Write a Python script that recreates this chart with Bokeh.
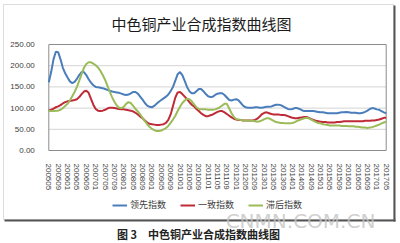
from bokeh.plotting import figure
from bokeh.models import (Range1d, FixedTicker, NumeralTickFormatter, Legend, LegendItem,
                          Label, BoxAnnotation)
from bokeh.embed import file_html
from bokeh.resources import INLINE

# ---------------- data ----------------
tick_labels = ["200505", "200509", "200601", "200605", "200609", "200701", "200705", "200709",
               "200801", "200805", "200809", "200901", "200905", "200909", "201001", "201005",
               "201009", "201101", "201105", "201109", "201201", "201205", "201209", "201301",
               "201305", "201309", "201401", "201405", "201409", "201501", "201505", "201509",
               "201601", "201605", "201609", "201701", "201705"]

y_ticks = [0, 50, 100, 150, 200, 250]

series_names = ["领先指数", "一致指数", "滞后指数"]

lead = [161, 185, 215, 233, 232, 215, 195, 182, 172, 163, 159, 162, 169, 178, 185, 185, 178, 168,
        160, 154, 150, 149, 148, 147, 145, 143, 141, 139, 138, 137, 136, 134, 132, 131, 132, 135,
        138, 138, 134, 127, 120, 112, 106, 103, 102, 105, 110, 115, 119, 123, 127, 132, 140, 150,
        165, 180, 185, 178, 164, 150, 140, 135, 135, 140, 145, 145, 140, 133, 128, 126, 127, 131,
        134, 135, 135, 131, 125, 119, 118, 120, 121, 118, 112, 105, 102, 101, 101, 101, 102, 102,
        101, 101, 102, 103, 103, 104, 106, 108, 108, 107, 104, 101, 98, 97, 98, 100, 100, 98,
        95, 93, 93, 93, 93, 93, 92, 91, 90, 90, 89, 88, 88, 88, 88, 88, 89, 90, 90, 91,
        90, 89, 89, 89, 88, 88, 89, 91, 94, 98, 100, 99, 97, 96, 93, 90, 88]

coincident = [94, 96, 99, 102, 104, 107, 111, 114, 116, 117, 118, 119, 121, 126, 133, 139, 141, 136,
              122, 108, 98, 94, 93, 94, 96, 99, 101, 101, 100, 99, 98, 97, 97, 96, 95, 94,
              92, 89, 85, 80, 76, 71, 66, 63, 62, 61, 60, 60, 61, 62, 65, 72, 85, 105,
              125, 137, 138, 133, 127, 121, 114, 108, 104, 98, 93, 88, 84, 81, 81, 83, 85, 88,
              91, 93, 93, 90, 86, 82, 78, 75, 73, 72, 72, 71, 71, 71, 71, 71, 72, 75,
              80, 86, 89, 90, 88, 86, 85, 85, 85, 84, 84, 83, 81, 79, 77, 76, 76, 77,
              78, 79, 79, 77, 74, 72, 70, 69, 68, 67, 67, 66, 66, 66, 66, 67, 67, 68,
              69, 69, 69, 69, 69, 69, 69, 69, 69, 70, 70, 70, 71, 71, 72, 73, 75, 77, 77]

lagging = [93, 93, 93, 94, 94, 96, 100, 105, 110, 118, 128, 138, 150, 165, 180, 195, 204, 208,
           208, 205, 201, 196, 188, 178, 167, 153, 139, 126, 115, 106, 101, 100, 103, 110, 114, 112,
           105, 98, 92, 85, 77, 69, 62, 56, 51, 48, 46, 46, 47, 50, 53, 58, 65, 73,
           82, 93, 103, 112, 118, 122, 121, 116, 109, 102, 98, 97, 97, 97, 96, 96, 96, 97,
           99, 102, 106, 110, 110, 99, 88, 79, 74, 73, 72, 71, 71, 71, 70, 70, 69, 68,
           69, 71, 74, 76, 76, 73, 70, 67, 66, 65, 65, 64, 64, 64, 65, 67, 70, 72,
           74, 76, 77, 76, 73, 70, 67, 65, 64, 62, 61, 60, 59, 59, 59, 59, 59, 58,
           58, 58, 57, 57, 57, 56, 56, 55, 54, 54, 53, 54, 55, 57, 59, 61, 64, 66, 68]

colors = ["#4A7EBB", "#BE2B37", "#9BBB59"]

# ---------------- layout geometry (canvas pixels) ----------------
W, H = 400, 243
PL, PR, PT, PB = 48.3, 385.7, 44, 150     # plot-area edges inside the chart canvas
n = len(lead)
x0, x1 = 0, n - 1
y0, y1 = y_ticks[0], y_ticks[-1]
kx = (PR - PL) / (x1 - x0)
ky = (PB - PT) / (y1 - y0)

p = figure(width=W, height=H, output_backend="svg", toolbar_location=None, title=None,
           x_range=Range1d(x0 - PL / kx, x1 + (W - PR) / kx),
           y_range=Range1d(y0 - (H - PB) / ky, y1 + PT / ky),
           min_border_left=0, min_border_right=0, min_border_top=0, min_border_bottom=0)
p.background_fill_color = "white"
p.border_fill_color = "white"
p.outline_line_color = None
p.xgrid.grid_line_color = None
p.ygrid.grid_line_color = None

# horizontal grid lines inside the plot area
gy = y_ticks[1:-1]
p.segment(x0=[x0] * len(gy), x1=[x1] * len(gy), y0=gy, y1=gy, line_color="#d4d4d4", line_width=1)
# plot-area border
p.quad(left=[x0], right=[x1], bottom=[y0], top=[y1], fill_color=None,
       line_color="#8c8c8c", line_width=1)

xs = list(range(n))
renderers = []
for ys, c in zip([lead, coincident, lagging], colors):
    renderers.append(p.line(xs, ys, line_color=c, line_width=2))

# axes fixed at the plot-area edges
p.xaxis.fixed_location = y0
p.xaxis.bounds = (x0, x1)
p.xaxis.ticker = FixedTicker(ticks=[i * 4 for i in range(len(tick_labels))])
p.xaxis.major_label_overrides = {i * 4: lab for i, lab in enumerate(tick_labels)}
p.xaxis.major_label_orientation = "vertical"
p.xaxis.major_label_text_font = "Liberation Sans"
p.xaxis.major_label_text_font_size = "8px"
p.xaxis.major_label_text_color = "#404040"
p.xaxis.major_tick_line_color = None
p.xaxis.minor_tick_line_color = None
p.xaxis.axis_line_color = None
p.xaxis.major_label_standoff = 7

p.yaxis.fixed_location = x0
p.yaxis.bounds = (y0, y1)
p.yaxis.ticker = FixedTicker(ticks=y_ticks)
p.yaxis.formatter = NumeralTickFormatter(format="0.00")
p.yaxis.major_label_text_font = "Liberation Sans"
p.yaxis.major_label_text_font_size = "8px"
p.yaxis.major_label_text_color = "#404040"
p.yaxis.major_tick_line_color = None
p.yaxis.minor_tick_line_color = None
p.yaxis.axis_line_color = None
p.yaxis.major_label_standoff = 8


def sy(y):  # canvas y (from top) -> screen units (from bottom)
    return H - y


SU = dict(left_units="screen", right_units="screen", top_units="screen", bottom_units="screen")
# outer chart box with a darker right/bottom edge
p.add_layout(BoxAnnotation(left=3, right=393, top=sy(4), bottom=sy(219), fill_alpha=0,
                           line_color="#8a8a8a", line_width=1, **SU))
p.add_layout(BoxAnnotation(left=393, right=395, top=sy(5), bottom=sy(221), fill_color="#555555",
                           fill_alpha=1, line_alpha=0, **SU))
p.add_layout(BoxAnnotation(left=4, right=395, top=sy(219), bottom=sy(221), fill_color="#555555",
                           fill_alpha=1, line_alpha=0, **SU))

# chart title
p.add_layout(Label(x=201, y=sy(23), x_units="screen", y_units="screen",
                   text="中色铜产业合成指数曲线图", text_align="center", text_baseline="middle",
                   text_font="Noto Sans CJK SC", text_font_size="15px", text_color="#1a1a1a"))

# legend
legend = Legend(items=[LegendItem(label=nm, renderers=[r]) for nm, r in zip(series_names, renderers)],
                orientation="horizontal", location=(112, sy(211)),
                label_text_font="Noto Sans CJK SC", label_text_font_size="9px",
                label_text_color="#404040", glyph_width=15, glyph_height=8,
                label_standoff=3, spacing=14, padding=0, margin=0,
                border_line_color=None, background_fill_alpha=0, label_height=10)
p.add_layout(legend)

# watermark
p.add_layout(Label(x=300, y=sy(220), x_units="screen", y_units="screen", text="CNMN.COM.CN",
                   text_align="center", text_baseline="middle", text_font="DejaVu Sans",
                   text_font_size="20px", text_color="#c4c4c4", text_alpha=0.8))

# caption below the chart
p.add_layout(Label(x=198, y=sy(233), x_units="screen", y_units="screen",
                   text="图 3\u3000中色铜产业合成指数曲线图", text_align="center", text_baseline="middle",
                   text_font="Noto Sans CJK SC", text_font_size="11px", text_font_style="bold",
                   text_color="#222222"))

open("out.html", "w").write(file_html(p, INLINE))
